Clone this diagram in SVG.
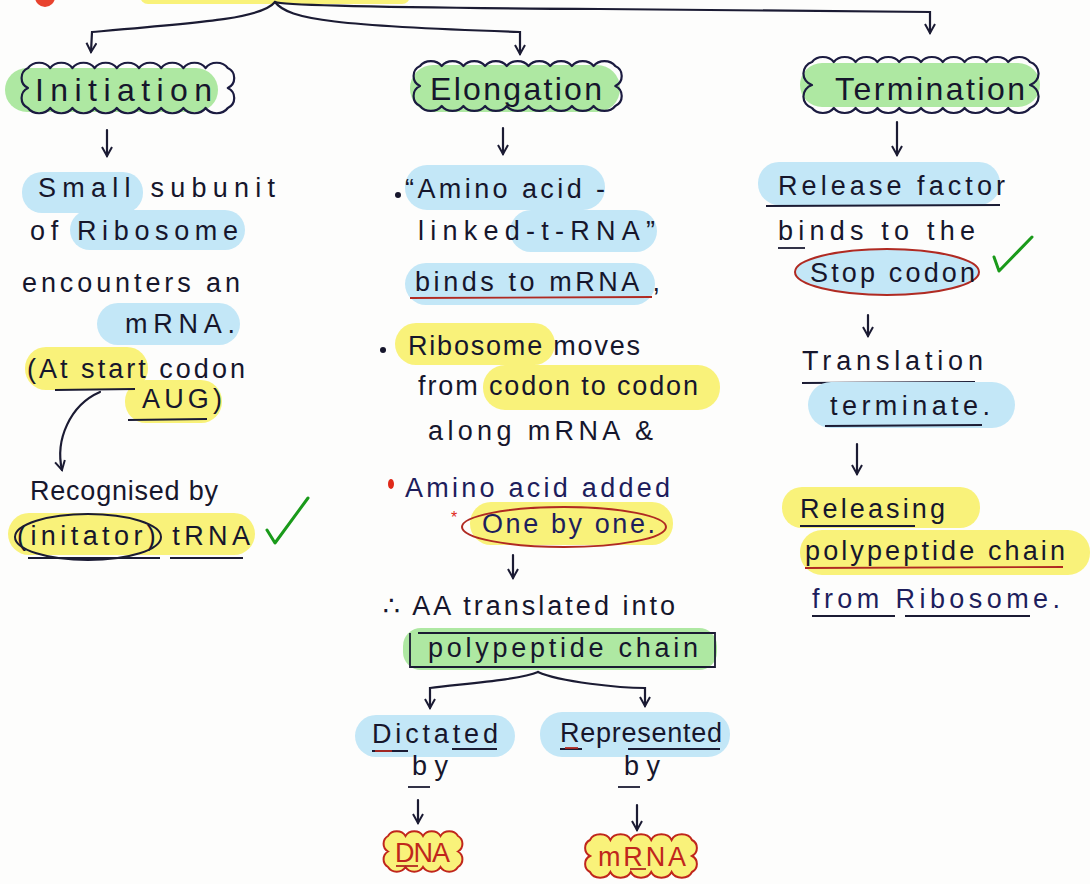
<svg xmlns="http://www.w3.org/2000/svg" width="1090" height="884" viewBox="0 0 1090 884">
  <defs>
    <style>
      .ink { fill: #16162c; font-family: "Liberation Sans", "DejaVu Sans", sans-serif; font-size: 27px; }
      .big { font-size: 32px; }
      .red { fill: #c0261c; }
      .navy { fill: #1e1e5c; }
      .hl-g { fill: #aee8a2; }
      .hl-b { fill: #c3e7f7; }
      .hl-y { fill: #f9f27a; }
      .line { fill: none; stroke: #1b1b33; stroke-width: 2.2; stroke-linecap: round; }
      .cloud { fill: none; stroke: #1b1b40; stroke-width: 2.2; stroke-linejoin: round; }
      .cloud-red { fill: #f9f27a; stroke: #c0261c; stroke-width: 2; }
      .ul { stroke: #1b1b33; stroke-width: 1.8; fill: none; }
      .ul-red { stroke: #b02a22; stroke-width: 1.8; fill: none; }
      .tick { fill: none; stroke: #1a9a1a; stroke-width: 3; stroke-linecap: round; stroke-linejoin: round; }
    </style>
    <marker id="head" viewBox="0 0 12 12" refX="10" refY="6" markerWidth="12" markerHeight="12" markerUnits="userSpaceOnUse" orient="auto">
      <path d="M1,1 L10,6 L1,11" fill="none" stroke="#1b1b33" stroke-width="2"/>
    </marker>
  </defs>

  <rect width="1090" height="884" fill="#fdfdfc"/>

  <!-- title fragment at the top edge -->
  <rect x="140" y="-12" width="270" height="16" rx="8" class="hl-y"/>
  <circle cx="45" cy="-3" r="10" fill="#e8432e"/>

  <!-- connectors -->
  <g id="connectors">
    <path class="line" d="M275,2 C262,18 210,22 92,32 L91,52" marker-end="url(#head)"/>
    <path class="line" d="M275,2 C288,20 340,26 520,32 L520,54" marker-end="url(#head)"/>
    <path class="line" d="M275,2 Q285,7 600,9 L930,12 L930,33" marker-end="url(#head)"/>
    <!-- initiation column -->
    <path class="line" d="M107,130 L107,156" marker-end="url(#head)"/>
    <path class="line" d="M100,392 C70,405 55,440 62,470" marker-end="url(#head)"/>
    <!-- elongation column -->
    <path class="line" d="M503,128 L503,154" marker-end="url(#head)"/>
    <path class="line" d="M513,555 L513,578" marker-end="url(#head)"/>
    <path class="line" d="M538,672 C520,680 460,684 430,688 L430,708" marker-end="url(#head)"/>
    <path class="line" d="M538,672 C560,682 620,688 645,688 L645,706" marker-end="url(#head)"/>
    <path class="line" d="M418,800 L418,823" marker-end="url(#head)"/>
    <path class="line" d="M637,805 L637,830" marker-end="url(#head)"/>
    <!-- termination column -->
    <path class="line" d="M897,122 L897,155" marker-end="url(#head)"/>
    <path class="line" d="M868,315 L868,336" marker-end="url(#head)"/>
    <path class="line" d="M857,444 L857,474" marker-end="url(#head)"/>
  </g>

  <!-- Initiation branch -->
  <g id="initiation">
    <rect x="5" y="68" width="213" height="44" rx="22" class="hl-g"/>
    <path class="cloud" d="M28,68 a13,11 0 0 1 22.2,0 a13,11 0 0 1 22.2,0 a13,11 0 0 1 22.2,0 a13,11 0 0 1 22.2,0 a13,11 0 0 1 22.2,0 a13,11 0 0 1 22.2,0 a13,11 0 0 1 22.2,0 a13,11 0 0 1 22.2,0 a13,11 0 0 1 22.2,0 a11,11 0 0 1 0,20 a11,11 0 0 1 0,20 a13,11 0 0 1 -22.2,0 a13,11 0 0 1 -22.2,0 a13,11 0 0 1 -22.2,0 a13,11 0 0 1 -22.2,0 a13,11 0 0 1 -22.2,0 a13,11 0 0 1 -22.2,0 a13,11 0 0 1 -22.2,0 a13,11 0 0 1 -22.2,0 a13,11 0 0 1 -22.2,0 a11,11 0 0 1 0,-20 a11,11 0 0 1 0,-20 Z"/>
    <text x="35" y="101" class="ink big" textLength="177" lengthAdjust="spacing">Initiation</text>
  </g>

  <g id="small-subunit">
    <rect x="22" y="172" width="121" height="41" rx="20" class="hl-b"/>
    <rect x="70" y="210" width="175" height="40" rx="20" class="hl-b"/>
    <rect x="97" y="303" width="143" height="42" rx="21" class="hl-b"/>
    <text x="38" y="197" class="ink" textLength="237" lengthAdjust="spacing">Small subunit</text>
    <text x="30" y="240" class="ink" textLength="208" lengthAdjust="spacing">of Ribosome</text>
    <text x="22" y="292" class="ink" textLength="218" lengthAdjust="spacing">encounters an</text>
    <text x="125" y="333" class="ink" textLength="110" lengthAdjust="spacing">mRNA.</text>
  </g>

  <g id="start-codon">
    <rect x="25" y="347" width="123" height="43" rx="21" class="hl-y"/>
    <rect x="125" y="380" width="97" height="43" rx="21" class="hl-y"/>
    <text x="27" y="378" class="ink" textLength="218" lengthAdjust="spacing">(At start codon</text>
    <text x="142" y="408" class="ink" textLength="80" lengthAdjust="spacing">AUG)</text>
    <path class="ul" d="M55,390 L135,389"/>
    <path class="ul" d="M128,420 L207,419"/>
  </g>

  <g id="initiator-trna">
    <rect x="8" y="513" width="247" height="42" rx="21" class="hl-y"/>
    <text x="30" y="500" class="ink" textLength="188" lengthAdjust="spacing">Recognised by</text>
    <text x="17" y="545" class="ink" textLength="233" lengthAdjust="spacing">(initator) tRNA</text>
    <ellipse cx="88" cy="537" rx="73" ry="23" fill="none" stroke="#1b1b33" stroke-width="2"/>
    <path class="ul" d="M28,558 L160,558 M170,558 L243,558"/>
    <path class="tick" d="M267,530 L275,543 L308,498"/>
  </g>

  <!-- Elongation branch -->
  <g id="elongation">
    <rect x="410" y="65" width="210" height="47" rx="23" class="hl-g"/>
    <path class="cloud" d="M420,66 a13,11 0 0 1 21.7,0 a13,11 0 0 1 21.7,0 a13,11 0 0 1 21.7,0 a13,11 0 0 1 21.7,0 a13,11 0 0 1 21.7,0 a13,11 0 0 1 21.7,0 a13,11 0 0 1 21.7,0 a13,11 0 0 1 21.7,0 a13,11 0 0 1 21.7,0 a11,11 0 0 1 0,20 a11,11 0 0 1 0,20 a13,11 0 0 1 -21.7,0 a13,11 0 0 1 -21.7,0 a13,11 0 0 1 -21.7,0 a13,11 0 0 1 -21.7,0 a13,11 0 0 1 -21.7,0 a13,11 0 0 1 -21.7,0 a13,11 0 0 1 -21.7,0 a13,11 0 0 1 -21.7,0 a13,11 0 0 1 -21.7,0 a11,11 0 0 1 0,-20 a11,11 0 0 1 0,-20 Z"/>
    <text x="430" y="100" class="ink big" textLength="172" lengthAdjust="spacing">Elongation</text>
  </g>

  <g id="aa-trna">
    <rect x="405" y="165" width="200" height="45" rx="22" class="hl-b"/>
    <rect x="510" y="210" width="147" height="42" rx="21" class="hl-b"/>
    <rect x="405" y="263" width="250" height="42" rx="21" class="hl-b"/>
    <circle cx="398" cy="195" r="3" fill="#16162c"/>
    <text x="405" y="198" class="ink" textLength="200" lengthAdjust="spacing">“Amino acid -</text>
    <text x="418" y="240" class="ink" textLength="237" lengthAdjust="spacing">linked-t-RNA”</text>
    <text x="415" y="291" class="ink" textLength="245" lengthAdjust="spacing">binds to mRNA ,</text>
    <path class="ul-red" d="M410,298 L652,297"/>
  </g>

  <g id="ribosome-moves">
    <rect x="395" y="323" width="160" height="42" rx="21" class="hl-y"/>
    <rect x="483" y="365" width="237" height="45" rx="22" class="hl-y"/>
    <circle cx="383" cy="350" r="3" fill="#16162c"/>
    <text x="408" y="355" class="ink" textLength="232" lengthAdjust="spacing">Ribosome moves</text>
    <text x="418" y="395" class="ink" textLength="280" lengthAdjust="spacing">from codon to codon</text>
    <text x="428" y="440" class="ink" textLength="225" lengthAdjust="spacing">along mRNA &amp;</text>
  </g>

  <g id="aa-added">
    <rect x="470" y="502" width="203" height="43" rx="21" class="hl-y"/>
    <ellipse cx="564" cy="527" rx="102" ry="20" fill="none" stroke="#b02a22" stroke-width="2"/>
    <ellipse cx="391" cy="484" rx="3" ry="5" fill="#e02a1a"/>
    <text x="451" y="523" fill="#e02a1a" font-family="Liberation Sans, sans-serif" font-size="16px">*</text>
    <text x="405" y="497" class="ink navy" textLength="265" lengthAdjust="spacing">Amino acid added</text>
    <text x="482" y="533" class="ink navy" textLength="173" lengthAdjust="spacing">One by one.</text>
  </g>

  <g id="polypeptide">
    <text x="383" y="615" class="ink" textLength="292" lengthAdjust="spacing">∴ AA translated into</text>
    <rect x="403" y="628" width="314" height="42" rx="18" class="hl-g"/>
    <path class="ul" d="M410,633 L410,667 L715,667 L715,633 L707,633 M418,633 L707,633"/>
    <text x="428" y="657" class="ink" textLength="270" lengthAdjust="spacing">polypeptide chain</text>
  </g>

  <g id="dictated">
    <rect x="355" y="715" width="160" height="42" rx="21" class="hl-b"/>
    <text x="372" y="743" class="ink" textLength="126" lengthAdjust="spacing">Dictated</text>
    <path class="ul" d="M372,751 L408,751 M452,749 L497,749"/>
    <path class="ul-red" d="M375,751 L392,751"/>
    <text x="412" y="775" class="ink" textLength="36" lengthAdjust="spacing">by</text>
    <path class="ul" d="M408,787 L430,787"/>
  </g>

  <g id="dna">
    <path class="cloud-red" d="M388,836 a10,9 0 0 1 17.5,0 a10,9 0 0 1 17.5,0 a10,9 0 0 1 17.5,0 a10,9 0 0 1 17.5,0 a9,9 0 0 1 0,15.5 a9,9 0 0 1 0,15.5 a10,9 0 0 1 -17.5,0 a10,9 0 0 1 -17.5,0 a10,9 0 0 1 -17.5,0 a10,9 0 0 1 -17.5,0 a9,9 0 0 1 0,-15.5 a9,9 0 0 1 0,-15.5 Z"/>
    <text x="395" y="862" class="ink red" textLength="55" lengthAdjust="spacing">DNA</text>
    <path class="ul-red" d="M396,866 L418,866"/>
  </g>

  <g id="represented">
    <rect x="540" y="712" width="190" height="45" rx="22" class="hl-b"/>
    <text x="560" y="742" class="ink" textLength="162" lengthAdjust="spacing">Represented</text>
    <path class="ul" d="M560,749 L582,749 M628,749 L720,749"/>
    <path class="ul-red" d="M565,748 L578,748"/>
    <text x="624" y="775" class="ink" textLength="36" lengthAdjust="spacing">by</text>
    <path class="ul" d="M618,787 L640,787"/>
  </g>

  <g id="mrna">
    <path class="cloud-red" d="M590,840 a11,9 0 0 1 20.4,0 a11,9 0 0 1 20.4,0 a11,9 0 0 1 20.4,0 a11,9 0 0 1 20.4,0 a11,9 0 0 1 20.4,0 a9,9 0 0 1 0,16 a9,9 0 0 1 0,16 a11,9 0 0 1 -20.4,0 a11,9 0 0 1 -20.4,0 a11,9 0 0 1 -20.4,0 a11,9 0 0 1 -20.4,0 a11,9 0 0 1 -20.4,0 a9,9 0 0 1 0,-16 a9,9 0 0 1 0,-16 Z"/>
    <text x="598" y="866" class="ink red" textLength="88" lengthAdjust="spacing">mRNA</text>
    <path class="ul-red" d="M630,869 L646,869"/>
  </g>

  <!-- Termination branch -->
  <g id="termination">
    <rect x="800" y="63" width="240" height="44" rx="22" class="hl-g"/>
    <path class="cloud" d="M812,62 a13,11 0 0 1 21.8,0 a13,11 0 0 1 21.8,0 a13,11 0 0 1 21.8,0 a13,11 0 0 1 21.8,0 a13,11 0 0 1 21.8,0 a13,11 0 0 1 21.8,0 a13,11 0 0 1 21.8,0 a13,11 0 0 1 21.8,0 a13,11 0 0 1 21.8,0 a13,11 0 0 1 21.8,0 a12,12 0 0 1 0,23 a12,12 0 0 1 0,23 a13,11 0 0 1 -21.8,0 a13,11 0 0 1 -21.8,0 a13,11 0 0 1 -21.8,0 a13,11 0 0 1 -21.8,0 a13,11 0 0 1 -21.8,0 a13,11 0 0 1 -21.8,0 a13,11 0 0 1 -21.8,0 a13,11 0 0 1 -21.8,0 a13,11 0 0 1 -21.8,0 a13,11 0 0 1 -21.8,0 a12,12 0 0 1 0,-23 a12,12 0 0 1 0,-23 Z"/>
    <text x="835" y="100" class="ink big" textLength="190" lengthAdjust="spacing">Termination</text>
  </g>

  <g id="release-factor">
    <rect x="758" y="162" width="242" height="43" rx="21" class="hl-b"/>
    <text x="778" y="195" class="ink" textLength="227" lengthAdjust="spacing">Release factor</text>
    <path class="ul" d="M766,206 L1000,205"/>
    <text x="778" y="240" class="ink" textLength="197" lengthAdjust="spacing">binds to the</text>
    <path class="ul" d="M778,248 L805,248"/>
    <ellipse cx="887" cy="272" rx="92" ry="23" fill="#c3e7f7" stroke="#b02a22" stroke-width="2"/>
    <text x="810" y="282" class="ink" textLength="165" lengthAdjust="spacing">Stop codon</text>
    <path class="tick" d="M994,257 L999,271 L1032,237"/>
  </g>

  <g id="translation-terminate">
    <text x="802" y="370" class="ink" textLength="181" lengthAdjust="spacing">Translation</text>
    <path class="ul" d="M802,383 L975,382"/>
    <rect x="808" y="382" width="207" height="46" rx="23" class="hl-b"/>
    <text x="830" y="415" class="ink" textLength="160" lengthAdjust="spacing">terminate.</text>
    <path class="ul" d="M825,426 L982,425"/>
  </g>

  <g id="releasing">
    <rect x="782" y="487" width="198" height="41" rx="20" class="hl-y"/>
    <rect x="800" y="530" width="290" height="45" rx="22" class="hl-y"/>
    <text x="800" y="518" class="ink" textLength="145" lengthAdjust="spacing">Releasing</text>
    <path class="ul" d="M800,526 L915,526"/>
    <text x="805" y="560" class="ink" textLength="260" lengthAdjust="spacing">polypeptide chain</text>
    <path class="ul-red" d="M805,568 L1063,567"/>
    <text x="812" y="608" class="ink navy" textLength="248" lengthAdjust="spacing">from Ribosome.</text>
    <path class="ul" d="M812,616 L895,616 M905,616 L1030,616"/>
  </g>
</svg>
